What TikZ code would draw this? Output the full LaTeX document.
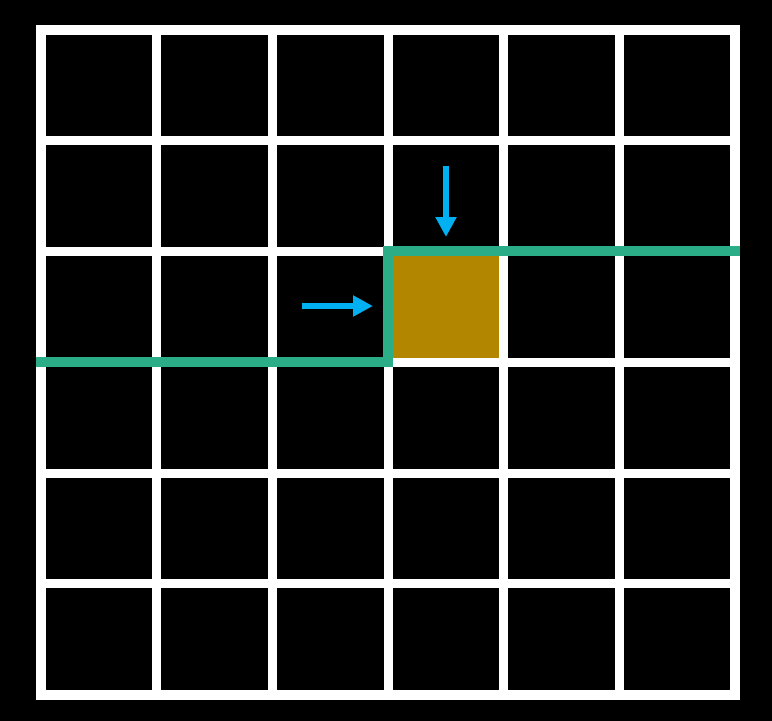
\documentclass[tikz,border=0pt]{standalone}
\usetikzlibrary{arrows.meta}
\definecolor{gridwhite}{RGB}{255,255,255}
\definecolor{cellgold}{RGB}{179,134,0}
\definecolor{pathgreen}{RGB}{43,174,136}
\definecolor{arrowblue}{RGB}{0,176,240}
\tikzset{
  gridline/.style={draw=gridwhite, line width=9pt},
  gridouter/.style={draw=gridwhite, line width=10pt},
  pathline/.style={draw=pathgreen, line width=10pt, line cap=butt, line join=miter},
  bluearrow/.style={draw=arrowblue, line width=6pt, -{Triangle[length=20pt,width=20pt]}},
}
\begin{document}
\begin{tikzpicture}[x=1pt,y=-1pt]
  \fill[black] (0,0) rectangle (772,721);
  \useasboundingbox (0,0) rectangle (772,721);
  % highlighted cell
  \fill[cellgold] (388,251.5) rectangle (503.7,362.25);
  % grid
  \foreach \x in {156.5,272.3,388,503.7,619.3}
    \draw[gridline] (\x,30) -- (\x,694.5);
  \foreach \y in {140.6,251.5,362.25,473,583.75}
    \draw[gridline] (41,\y) -- (735,\y);
  \draw[gridouter] (41,30) rectangle (735,694.5);
  % green boundary path
  \coordinate (gA) at (36,362);
  \coordinate (gB) at (388,362);
  \coordinate (gC) at (388,251);
  \coordinate (gD) at (740,251);
  \draw[pathline] (gA) -- (gB) -- (gC) -- (gD);
  % arrows
  \coordinate (hS) at (302,306);
  \coordinate (hE) at (373,306);
  \draw[bluearrow] (hS) -- (hE);
  \coordinate (vS) at (446,166);
  \coordinate (vE) at (446,237);
  \draw[bluearrow] (vS) -- (vE);
\end{tikzpicture}
\end{document}
